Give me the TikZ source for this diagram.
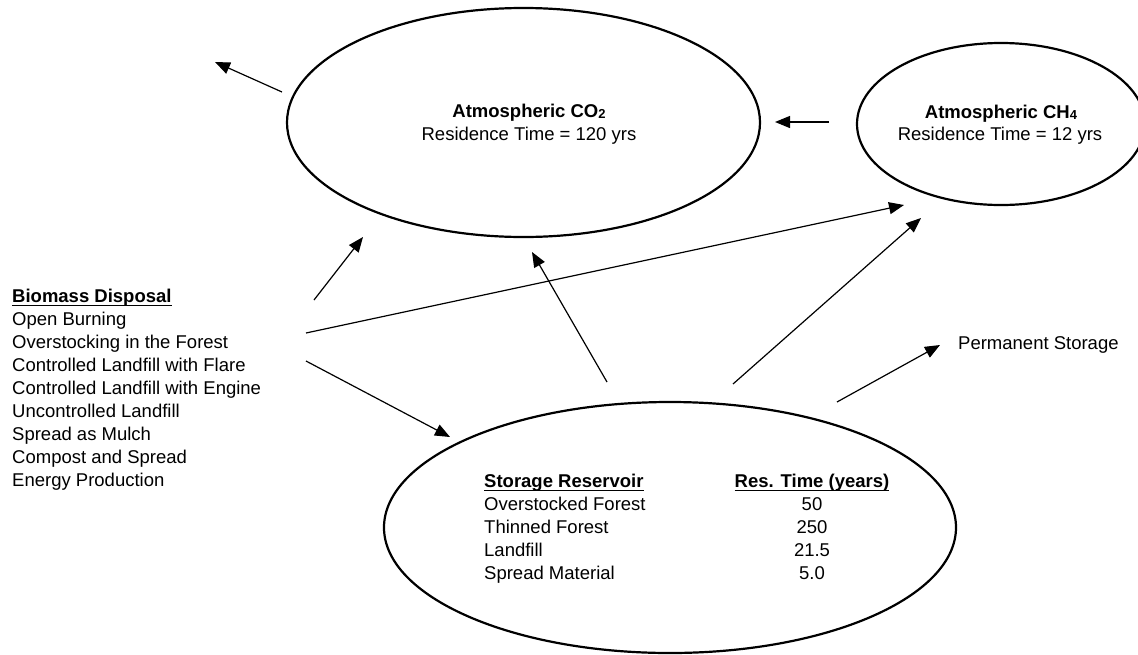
\documentclass[tikz,border=0pt]{standalone}
\usepackage{fontspec}
\setmainfont{Liberation Sans}
\usetikzlibrary{shapes.geometric,arrows.meta}
\newcommand\ulin[1]{\setbox0\hbox{#1}\rlap{\rule[-4pt]{\wd0}{1.4pt}}\box0}
\newcommand\subdig[1]{\raisebox{-1.5pt}{\fontsize{13}{13}\selectfont #1}}
\begin{document}
\begin{tikzpicture}[x=1pt,y=-1pt,
  txt/.style={font=\fontsize{18.5}{23}\selectfont, inner sep=0pt, text=black},
  txtb/.style={font=\fontsize{18.5}{23}\selectfont\bfseries, inner sep=0pt, text=black},
  blob/.style={draw, ellipse, line width=2.2pt, inner sep=0pt},
  flow/.style={line width=1.2pt, -{Triangle[length=15pt,width=12pt]}}]
\useasboundingbox (0,0) rectangle (1138,654);
\fill[white] (0,0) rectangle (1138,654);
% ellipses
\node[blob, minimum width=473pt, minimum height=229pt] (co2) at (523.5,122.5) {};
\node[blob, minimum width=288pt, minimum height=162pt] (ch4) at (1001,124) {};
\node[blob, minimum width=572pt, minimum height=251pt] (res) at (670,527.5) {};
% CO2 text
\node[txtb, anchor=base] (co2t) at (529,117) {Atmospheric CO\subdig{2}};
\node[txt, anchor=base] (co2r) at (529,140) {Residence Time = 120 yrs};
% CH4 text
\node[txtb, anchor=base] (ch4t) at (1001,118) {Atmospheric CH\subdig{4}};
\node[txt, anchor=base] (ch4r) at (1000,140) {Residence Time = 12 yrs};
% biomass list
\node[txtb, anchor=base west] (bd) at (12,302) {\ulin{Biomass Disposal}};
\foreach \t [count=\i] in {Open Burning, Overstocking in the Forest, Controlled Landfill with Flare, Controlled Landfill with Engine, Uncontrolled Landfill, Spread as Mulch, Compost and Spread, Energy Production}
  \node[txt, anchor=base west] (bd\i) at (12,{302+23.1*\i}) {\t};
% storage table
\node[txtb, anchor=base west] (sr) at (484,487) {\ulin{Storage Reservoir}};
\node[txtb, anchor=base] (rt) at (812,487) {\ulin{Res. Time (years)}};
\foreach \a/\b [count=\i] in {Overstocked Forest/50, Thinned Forest/250, Landfill/21.5, Spread Material/5.0}{
  \node[txt, anchor=base west] (sa\i) at (484,{487+23.1*\i}) {\a};
  \node[txt, anchor=base] (sb\i) at (812,{487+23.1*\i}) {\b};
}
% permanent storage
\node[txt, anchor=base west] (perm) at (958,349) {Permanent Storage};
% connector end points
\coordinate (a1s) at (282,92);   \coordinate (a1e) at (215,62);
\coordinate (a2s) at (829,122);  \coordinate (a2e) at (775,122);
\coordinate (a3s) at (314,300);  \coordinate (a3e) at (363,237);
\coordinate (a4s) at (306,333);  \coordinate (a4e) at (904,205);
\coordinate (a5s) at (306,361);  \coordinate (a5e) at (450,437);
\coordinate (a6s) at (607,382);  \coordinate (a6e) at (532,252);
\coordinate (a7s) at (733,384);  \coordinate (a7e) at (921,218);
\coordinate (a8s) at (837,402);  \coordinate (a8e) at (940,345);
\foreach \k in {1,...,8}
  \draw[flow] (a\k s) -- (a\k e);
\end{tikzpicture}
\end{document}
